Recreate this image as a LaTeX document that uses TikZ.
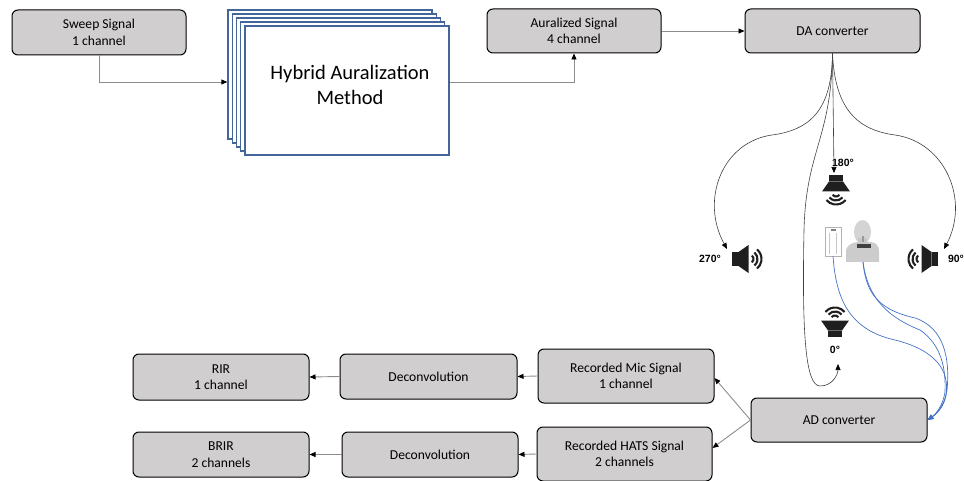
\documentclass[tikz,border=0pt]{standalone}
\usepackage{fontspec}
\setmainfont{Carlito}
\newfontfamily\lblfont{Liberation Sans}
\usetikzlibrary{arrows.meta}
\definecolor{boxgray}{HTML}{D0CECE}
\definecolor{stackblue}{HTML}{44659A}
\definecolor{cableblue}{HTML}{4472C4}
\tikzset{
  box/.style={draw=black, line width=1pt, fill=boxgray, rounded corners=6pt,
    align=center, inner sep=0pt, font=\fontsize{13.6}{16.5}\selectfont},
  layer/.style={draw=stackblue, line width=1.4pt, fill=white,
    minimum width=204pt, minimum height=129pt, inner sep=0pt},
  conn/.style={draw=black!45, line width=0.9pt, -{Triangle[length=6pt,width=5pt,color=black]}},
  curve/.style={draw=black!75, line width=0.6pt, -{Triangle[length=6pt,width=5pt,color=black]}},
  cable/.style={draw=cableblue, line width=0.7pt, -{Triangle[length=6pt,width=5pt]}},
  deg/.style={font=\lblfont\bfseries\fontsize{10.5}{12}\selectfont, inner sep=0pt},
  speaker/.pic={
    \fill[black!88] (-15,-7) rectangle (-8.5,7);
    \fill[black!88] (-8.5,-7) -- (1.5,-14) -- (1.5,14) -- (-8.5,7) -- cycle;
    \foreach \r in {4.5,8.5,12.5}
      \draw[black!88, line width=2.1pt] (2,0) ++(-50:\r) arc[start angle=-50, end angle=50, radius=\r];
  }
}
\begin{document}
\begin{tikzpicture}[x=1pt,y=-1pt]
\useasboundingbox (0,0) rectangle (964,481);

% processing chain, top row
\node[box, minimum width=174pt, minimum height=45pt] (sweep) at (99,32.5) {Sweep Signal\\1 channel};
\foreach \k in {4,3,2,1}
  \node[layer] (ham\k) at ({347-4.25*\k},{90.5-4*\k}) {};
\node[layer] (ham) at (347,90.5) {};
\node[font=\fontsize{20.5}{25}\selectfont, align=center] (hamtext) at (350,85) {Hybrid Auralization\\Method};
\node[box, minimum width=174pt, minimum height=44pt] (aural) at (574,31) {Auralized Signal\\4 channel};
\node[box, minimum width=175pt, minimum height=44pt] (da) at (832.5,31) {DA converter};

\coordinate (hamin) at (ham4.west |- 0,82);
\coordinate (hamout) at (ham.east |- 0,82);
\draw[conn] (sweep.south) |- (hamin);
\draw[conn] (hamout) -| (aural.south);
\draw[conn] (aural.east) -- (da.west);

% playback loudspeakers
\pic at (747,259) {speaker};
\pic[xscale=-1] at (923,259) {speaker};
\pic[rotate=-90] at (836,190) {speaker};
\pic[rotate=90] at (835,322) {speaker};
\node[deg] (l180) at (843,163) {180°};
\node[deg] (l270) at (710,259) {270°};
\node[deg] (l90) at (956,259) {90°};
\node[deg] (l0) at (835,350) {0°};

\coordinate (t270) at (727,249);
\coordinate (t90) at (944,249);
\coordinate (t180) at (834,173);
\coordinate (t0) at (838,364);
\draw[curve] (da.south) .. controls (832,110) and (810,130) .. (772,135)
  .. controls (722,142) and (700,200) .. (t270);
\draw[curve] (da.south) .. controls (835,110) and (858,130) .. (895,135)
  .. controls (945,142) and (970,200) .. (t90);
\draw[curve] (da.south) -- (t180);
\draw[curve] (da.south) .. controls (831,140) and (806,150) .. (804,230)
  .. controls (802,330) and (805,386) .. (820,386)
  .. controls (833,386) and (838,374) .. (t0);

% measurement microphone
\draw[black!30, fill=white, line width=0.6pt] (825,227) rectangle (841,256);
\fill[black!50] (831,229) rectangle (835.5,231);
\draw[black!22, line width=0.5pt] (829.5,233) -- (829.5,254) (836.5,233) -- (836.5,254);
\coordinate (micjack) at (833,256);

% head and torso simulator
\fill[black!20] (846,262) -- (846,252) .. controls (846,245) and (852,243) .. (857,242)
  -- (871,242) .. controls (876,243) and (879,245) .. (879,252) -- (879,262) -- cycle;
\fill[black!75] (857,244) rectangle (871,248.5);
\fill[black!17] (862.5,232) ellipse [x radius=8.5, y radius=12];
\fill[black!22] (858,238) rectangle (867,244);
\fill[black!40] (861.5,236) rectangle (863.5,242);
\coordinate (hatsjack) at (863,262);

% recording chain, bottom rows
\node[box, minimum width=176pt, minimum height=44pt] (ad) at (839,420) {AD converter};
\node[box, minimum width=176pt, minimum height=54pt] (mic) at (626,376) {Recorded Mic Signal\\1 channel};
\node[box, minimum width=175pt, minimum height=54pt] (hats) at (624.5,454) {Recorded HATS Signal\\2 channels};
\node[box, minimum width=177pt, minimum height=45pt] (dec1) at (428.5,376.5) {Deconvolution};
\node[box, minimum width=176pt, minimum height=45pt] (dec2) at (430,454.5) {Deconvolution};
\node[box, minimum width=176pt, minimum height=46pt] (rir) at (221,377) {RIR\\1 channel};
\node[box, minimum width=176pt, minimum height=45pt] (brir) at (221,454.5) {BRIR\\2 channels};

\draw[cable] (micjack) .. controls (836,300) and (850,330) .. (895,340)
  .. controls (935,350) and (950,370) .. (946,395)
  .. controls (944,408) and (935,415) .. (ad.east);
\draw[cable] (hatsjack) .. controls (866,295) and (880,310) .. (915,318)
  .. controls (945,328) and (950,360) .. (947,390)
  .. controls (945,405) and (936,414) .. (ad.east);
\draw[cable] (hatsjack) .. controls (868,300) and (890,318) .. (920,330)
  .. controls (942,345) and (946,370) .. (945,392)
  .. controls (943,406) and (935,415) .. (ad.east);

\draw[conn] (ad.west) -- ([yshift=-2pt]mic.east);
\draw[conn] (ad.west) -- ([yshift=6pt]hats.east);
\draw[conn] (mic.west) -- (dec1.east);
\draw[conn] (dec1.west) -- (rir.east);
\draw[conn] (hats.west) -- (dec2.east);
\draw[conn] (dec2.west) -- (brir.east);
\end{tikzpicture}
\end{document}
